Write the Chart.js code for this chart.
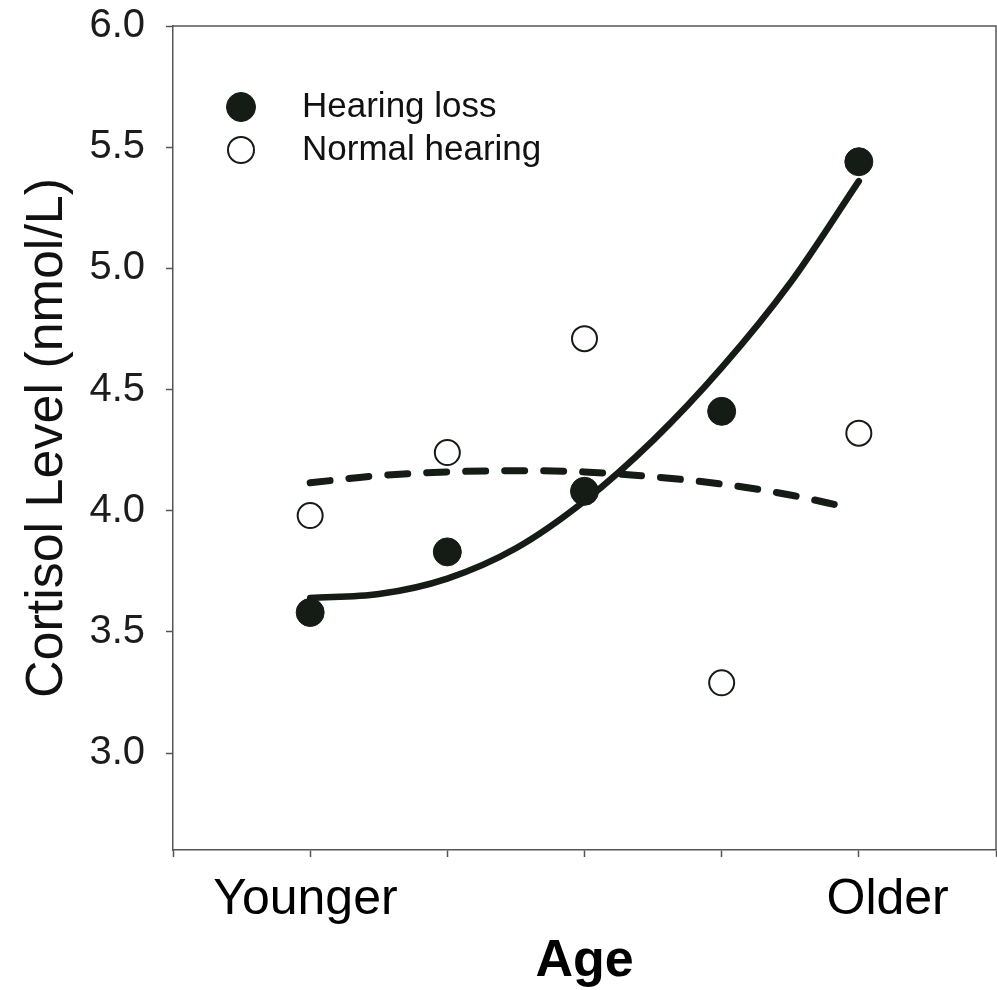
<!DOCTYPE html>
<html>
<head>
<meta charset="utf-8">
<script src="https://cdn.jsdelivr.net/npm/chart.js@4.4.1/dist/chart.umd.min.js"></script>
<style>
  html, body { margin: 0; padding: 0; background: #fff; overflow: hidden; }
  #wrap { width: 997px; height: 990px; position: relative; }
  #cortisolChart { display: block; }
</style>
</head>
<body>
<div id="wrap"><canvas id="cortisolChart"></canvas></div>
<script>
// data
var agePositions = [1, 2, 3, 4, 5];
var hearingLoss = [3.58, 3.83, 4.08, 4.41, 5.44];
var normalHearing = [3.98, 4.24, 4.71, 3.29, 4.32];

// fitted curves, sampled along the drawn lines
var hearingLossFitX = [1, 1.5, 2, 2.5, 3, 3.5, 4, 4.5, 5];
var hearingLossFit = [3.64, 3.656, 3.72, 3.845, 4.04, 4.29, 4.59, 4.94, 5.36];
var normalHearingFitX = [1, 1.5, 2, 2.5, 3, 3.5, 4, 4.5, 4.9];
var normalHearingFit = [4.115, 4.145, 4.16, 4.165, 4.16, 4.14, 4.11, 4.065, 4.016];

var yTickValues = [3.0, 3.5, 4.0, 4.5, 5.0, 5.5, 6.0];
var xTickValues = [0, 1, 2, 3, 4, 5, 6];
var xTickLabels = ['Younger', 'Older'];

var ink = '#151b15';
var axisGrey = '#555555';
var fontFamily = '"Liberation Sans", Arial, Helvetica, sans-serif';

function toPoints(xs, ys) {
    var pts = [];
    for (var i = 0; i < xs.length; i++) {
        pts.push({ x: xs[i], y: ys[i] });
    }
    return pts;
}

// fixed axis sizes, and no extra room for the end labels
function fixSize(w, h) {
    return function(scale) {
        if (w !== null) scale.width = w;
        if (h !== null) scale.height = h;
        scale.paddingTop = 0;
        scale.paddingBottom = 0;
        scale.paddingLeft = 0;
        scale.paddingRight = 0;
    };
}

// top + right edges of the plot box
var frameBox = {
    id: 'frameBox',
    beforeDatasetsDraw: function(chart) {
        var a = chart.chartArea;
        var ctx = chart.ctx;
        ctx.save();
        ctx.strokeStyle = axisGrey;
        ctx.lineWidth = 1.5;
        ctx.beginPath();
        ctx.moveTo(a.left, a.top);
        ctx.lineTo(a.right, a.top);
        ctx.lineTo(a.right, a.bottom);
        ctx.stroke();
        ctx.restore();
    }
};

// legend inside the plot, symbol well apart from the text
var innerLegend = {
    id: 'innerLegend',
    afterDraw: function(chart) {
        var a = chart.chartArea;
        var ctx = chart.ctx;
        ctx.save();
        ctx.font = '35px ' + fontFamily;
        ctx.textBaseline = 'middle';
        ctx.textAlign = 'left';
        chart.data.datasets.forEach(function(ds) {
            if (ds.legendRow === undefined) return;
            var cy = a.top + 81 + ds.legendRow * 43;
            var cx = a.left + 68;
            ctx.beginPath();
            ctx.arc(cx, cy, ds.legendRow === 0 ? 14.5 : 13, 0, Math.PI * 2);
            ctx.fillStyle = ds.pointBackgroundColor;
            ctx.fill();
            ctx.lineWidth = ds.pointBorderWidth;
            ctx.strokeStyle = ds.pointBorderColor;
            ctx.stroke();
            ctx.fillStyle = '#111';
            ctx.fillText(ds.label, a.left + 129, cy);
        });
        ctx.restore();
    }
};

var ctx = document.getElementById('cortisolChart');
var cortisolChart = new Chart(ctx, {
    type: 'scatter',
    data: {
        datasets: [
        {
            label: 'Hearing loss',
            legendRow: 0,
            data: toPoints(agePositions, hearingLoss),
            pointRadius: 14,
            pointBackgroundColor: ink,
            pointBorderColor: ink,
            pointBorderWidth: 1,
            order: 0
        },
        {
            label: 'Normal hearing',
            legendRow: 1,
            data: toPoints(agePositions, normalHearing),
            pointRadius: 12.5,
            pointBackgroundColor: '#ffffff',
            pointBorderColor: ink,
            pointBorderWidth: 2,
            order: 0
        },
        {
            label: 'Hearing loss fit',
            data: toPoints(hearingLossFitX, hearingLossFit),
            showLine: true,
            pointRadius: 0,
            borderColor: ink,
            borderWidth: 6.5,
            borderCapStyle: 'round',
            cubicInterpolationMode: 'monotone',
            order: 1
        },
        {
            label: 'Normal hearing fit',
            data: toPoints(normalHearingFitX, normalHearingFit),
            showLine: true,
            pointRadius: 0,
            borderColor: ink,
            borderWidth: 7,
            borderDash: [20, 19],
            borderCapStyle: 'round',
            cubicInterpolationMode: 'monotone',
            order: 1
        }
        ]
    },
    options: {
        responsive: true,
        maintainAspectRatio: false,
        animation: false,
        layout: {
            autoPadding: false,
            padding: { top: 26, right: 1, left: 0, bottom: 0 }
        },
        plugins: {
            legend: { display: false },
            tooltip: { enabled: false }
        },
        scales: {
            y: {
                type: 'linear',
                min: 2.6,
                max: 6.0,
                afterBuildTicks: function(scale) {
                    scale.ticks = yTickValues.map(function(v) { return { value: v }; });
                },
                afterFit: fixSize(173, null),
                ticks: {
                    padding: 21,
                    color: '#1c1c1c',
                    font: { family: fontFamily, size: 40 },
                    callback: function(v) { return Number(v).toFixed(1); }
                },
                grid: {
                    drawOnChartArea: false,
                    drawTicks: true,
                    tickLength: 7,
                    tickWidth: 1.5,
                    tickColor: axisGrey
                },
                border: { display: true, color: axisGrey, width: 1.5 },
                title: {
                    display: true,
                    text: 'Cortisol Level (nmol/L)',
                    color: '#111',
                    font: { family: fontFamily, size: 52, lineHeight: 1.2 },
                    padding: { top: 16, bottom: 0 }
                }
            },
            x: {
                type: 'linear',
                position: 'bottom',
                weight: 0,
                min: 0,
                max: 6,
                afterBuildTicks: function(scale) {
                    scale.ticks = xTickValues.map(function(v) { return { value: v }; });
                },
                afterFit: fixSize(null, 7),
                ticks: { display: false },
                grid: {
                    drawOnChartArea: false,
                    drawTicks: true,
                    tickLength: 7,
                    tickWidth: 1.5,
                    tickColor: axisGrey
                },
                border: { display: true, color: axisGrey, width: 1.5 }
            },
            xl: {
                type: 'linear',
                position: 'bottom',
                weight: 1,
                min: 0,
                max: 6,
                afterBuildTicks: function(scale) {
                    // text labels sit where the original placed them
                    scale.ticks = [{ value: 0.965 }, { value: 5.21 }];
                },
                afterFit: fixSize(null, 133),
                ticks: {
                    padding: 13,
                    color: '#000',
                    maxRotation: 0,
                    autoSkip: false,
                    font: { family: fontFamily, size: 50 },
                    callback: function(v, i) { return xTickLabels[i]; }
                },
                grid: { display: false, drawTicks: false },
                border: { display: false },
                title: {
                    display: true,
                    text: 'Age',
                    color: '#000',
                    font: { family: fontFamily, size: 52, weight: 'bold', lineHeight: 1.0 },
                    padding: { top: 0, bottom: 2 }
                }
            }
        }
    },
    plugins: [frameBox, innerLegend]
});
</script>
</body>
</html>
